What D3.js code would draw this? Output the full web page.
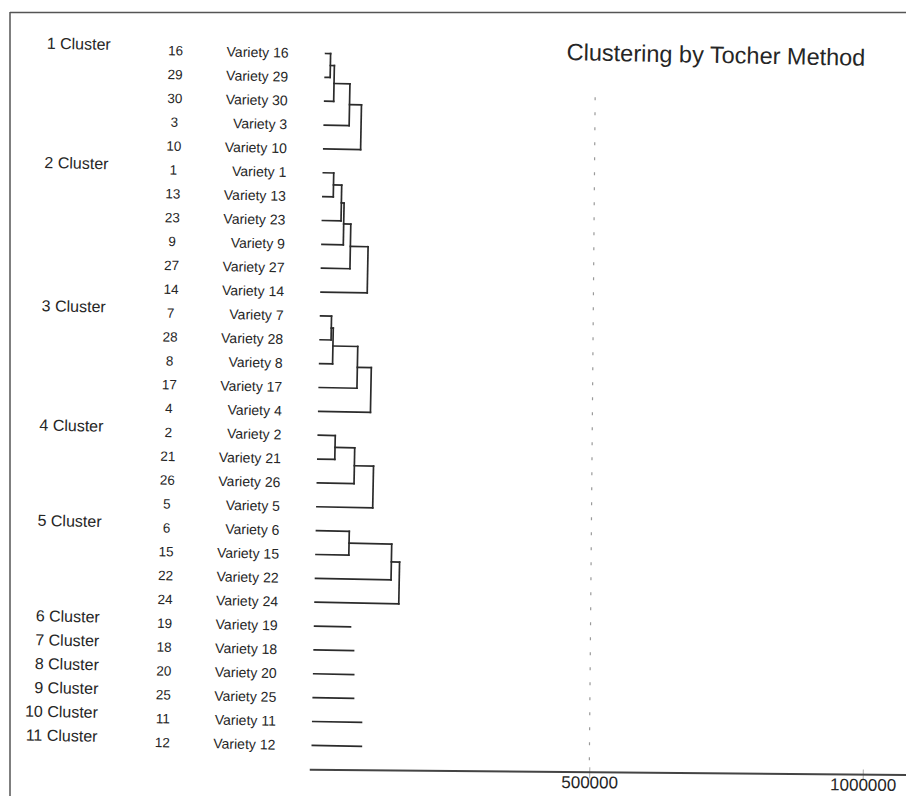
<!DOCTYPE html>
<html>
<head>
<meta charset="utf-8">
<script src="https://cdn.jsdelivr.net/npm/d3@7"></script>
<style>
  body { margin: 0; background: #fff; }
  text { font-family: "Liberation Sans", Arial, sans-serif; fill: #262626; }
</style>
</head>
<body>
<svg id="chart" width="906" height="796"></svg>
<script>
// cluster names and members (variety numbers, top to bottom)
var clusterNames = ["1 Cluster", "2 Cluster", "3 Cluster", "4 Cluster", "5 Cluster",
    "6 Cluster", "7 Cluster", "8 Cluster", "9 Cluster", "10 Cluster", "11 Cluster"];
var clusterMembers = [
    [16, 29, 30, 3, 10],
    [1, 13, 23, 9, 27, 14],
    [7, 28, 8, 17, 4],
    [2, 21, 26, 5],
    [6, 15, 22, 24],
    [19], [18], [20], [25], [11], [12]
];
// joining distances inside each cluster (for single members: length of the leaf line)
var mergeHeights = [
    [9100, 16400, 45500, 67300],
    [19000, 34000, 39000, 52000, 84400],
    [20000, 23600, 69000, 94500],
    [31000, 67000, 102000],
    [60000, 138000, 153000],
    [65500], [72000], [73000], [73600], [89000], [89600]
];
var tickValues = [500000, 1000000];
var title = "Clustering by Tocher Method";

var svg = d3.select("#chart");

// frame of the page
svg.append("line").attr("x1", 10).attr("x2", 906).attr("y1", 12.5).attr("y2", 12.5)
    .attr("stroke", "#555").attr("stroke-width", 1.5);
svg.append("line").attr("x1", 10).attr("x2", 10).attr("y1", 12).attr("y2", 796)
    .attr("stroke", "#555").attr("stroke-width", 1.5);

// the printed page sits slightly tilted (the scan is not even)
var g = svg.append("g").attr("transform", "rotate(1.1,453,400)");
var ga = svg.append("g").attr("transform", "rotate(0.5,453,400)");

var order = [];
clusterMembers.forEach(function (m) { order = order.concat(m); });

var y = d3.scalePoint().domain(order).range([56, 748]);
var x = d3.scaleLinear().domain([0, 1000000]).range([319, 866]);

// axis
var axis = d3.axisBottom(x).tickValues(tickValues).tickFormat(d3.format("d")).tickSize(6).tickSizeOuter(0);
var ax = ga.append("g").attr("transform", "translate(0,771)").call(axis);
ax.select(".domain").remove();
ax.append("line").attr("x1", x(0) - 6).attr("x2", x(1100000)).attr("stroke", "#444").attr("stroke-width", 2);
ax.selectAll(".tick line").attr("stroke", "#aaa").attr("y1", -5).attr("y2", 6);
ax.selectAll(".tick text").attr("y", 16).attr("dy", "0").attr("font-size", "17px").attr("fill", "#333")
    .style("font-family", "'Liberation Sans', Arial, sans-serif");

// dashed guide at 500000
ga.append("line")
    .attr("x1", x(500000)).attr("x2", x(500000))
    .attr("y1", 96).attr("y2", 770)
    .attr("stroke", "#999").attr("stroke-width", 1.2)
    .attr("stroke-dasharray", "3,12");

// title
g.append("text").attr("x", 560).attr("y", 58).attr("font-size", "23.5px").text(title);

// labels
clusterMembers.forEach(function (members, ci) {
    g.append("text")
        .attr("x", 104).attr("y", y(members[0]) - 5)
        .attr("dy", "0.35em").attr("text-anchor", "end")
        .attr("font-size", "16px")
        .text(clusterNames[ci]);
});
g.selectAll(".num").data(order).enter().append("text")
    .attr("class", "num")
    .attr("x", 169).attr("y", function (d) { return y(d); })
    .attr("dy", "0.35em").attr("text-anchor", "middle")
    .attr("font-size", "13.5px")
    .text(function (d) { return d; });
g.selectAll(".var").data(order).enter().append("text")
    .attr("class", "var")
    .attr("x", 282).attr("y", function (d) { return y(d); })
    .attr("dy", "0.35em").attr("text-anchor", "end")
    .attr("font-size", "14px")
    .text(function (d) { return "Variety " + d; });

// dendrogram segments
var segs = [];
clusterMembers.forEach(function (members, ci) {
    var hs = mergeHeights[ci];
    if (members.length === 1) {
        segs.push([0, y(members[0]), hs[0], y(members[0])]);
        return;
    }
    // chain: first two join, then each next member joins the group
    var node = { h: 0, y: y(members[0]) };
    for (var i = 1; i < members.length; i++) {
        var leaf = { h: 0, y: y(members[i]) };
        var h = hs[i - 1];
        segs.push([node.h, node.y, h, node.y]);
        segs.push([leaf.h, leaf.y, h, leaf.y]);
        segs.push([h, node.y, h, leaf.y]);
        node = { h: h, y: (node.y + leaf.y) / 2 };
    }
});

g.selectAll(".seg").data(segs).enter().append("line")
    .attr("class", "seg")
    .attr("x1", function (d) { return x(d[0]); })
    .attr("y1", function (d) { return d[1]; })
    .attr("x2", function (d) { return x(d[2]); })
    .attr("y2", function (d) { return d[3]; })
    .attr("stroke", "#2b2b2b").attr("stroke-width", 1.7)
    .attr("stroke-linecap", "square");
</script>
</body>
</html>
